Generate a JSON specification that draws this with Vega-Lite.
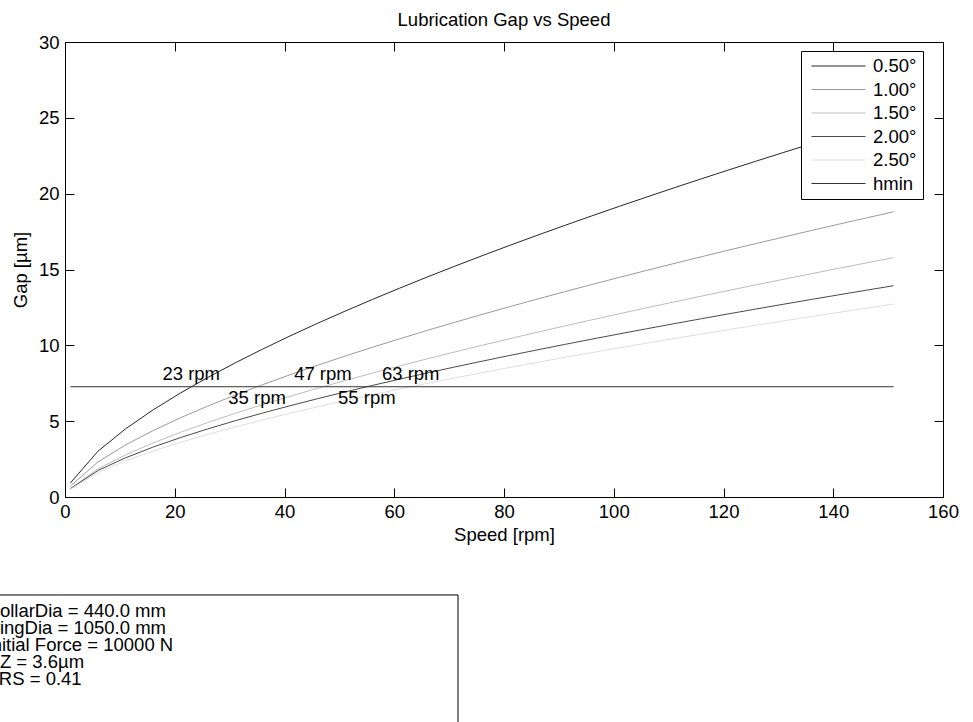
{
  "$schema": "https://vega.github.io/schema/vega-lite/v6.json",
  "width": 878,
  "height": 455,
  "autosize": {"type": "none"},
  "padding": {"left": 65, "top": 42, "right": 30, "bottom": 225},
  "background": "white",
  "config": {
    "font": "Liberation Sans",
    "view": {"stroke": "black", "strokeWidth": 1},
    "axis": {
      "domainColor": "black", "tickColor": "black", "labelColor": "black", "titleColor": "black",
      "labelFont": "Liberation Sans", "titleFont": "Liberation Sans",
      "labelFontSize": 18.5, "titleFontSize": 18.5, "titleFontWeight": "normal",
      "grid": false, "tickSize": -9, "domainWidth": 1, "tickWidth": 1,
      "labelFlush": false, "labelOverlap": false, "labelBound": false
    }
  },
  "title": {"text": "Lubrication Gap vs Speed", "fontSize": 18.5, "fontWeight": "normal", "color": "black", "font": "Liberation Sans", "anchor": "middle", "offset": 4},
  "datasets": {
    "curves": [
      {"series": "0.50°", "speed": 1, "gap": 0.932}, {"series": "0.50°", "speed": 6, "gap": 3.015}, {"series": "0.50°", "speed": 11, "gap": 4.485}, {"series": "0.50°", "speed": 16, "gap": 5.732}, {"series": "0.50°", "speed": 21, "gap": 6.849}, {"series": "0.50°", "speed": 26, "gap": 7.879}, {"series": "0.50°", "speed": 31, "gap": 8.840}, {"series": "0.50°", "speed": 36, "gap": 9.750}, {"series": "0.50°", "speed": 41, "gap": 10.617}, {"series": "0.50°", "speed": 46, "gap": 11.447}, {"series": "0.50°", "speed": 51, "gap": 12.248}, {"series": "0.50°", "speed": 56, "gap": 13.022}, {"series": "0.50°", "speed": 61, "gap": 13.772}, {"series": "0.50°", "speed": 66, "gap": 14.503}, {"series": "0.50°", "speed": 71, "gap": 15.213}, {"series": "0.50°", "speed": 76, "gap": 15.906}, {"series": "0.50°", "speed": 81, "gap": 16.585}, {"series": "0.50°", "speed": 86, "gap": 17.248}, {"series": "0.50°", "speed": 91, "gap": 17.897}, {"series": "0.50°", "speed": 96, "gap": 18.535}, {"series": "0.50°", "speed": 101, "gap": 19.163}, {"series": "0.50°", "speed": 106, "gap": 19.778}, {"series": "0.50°", "speed": 111, "gap": 20.385}, {"series": "0.50°", "speed": 116, "gap": 20.983}, {"series": "0.50°", "speed": 121, "gap": 21.570}, {"series": "0.50°", "speed": 126, "gap": 22.151}, {"series": "0.50°", "speed": 131, "gap": 22.724}, {"series": "0.50°", "speed": 136, "gap": 23.287}, {"series": "0.50°", "speed": 141, "gap": 23.846}, {"series": "0.50°", "speed": 146, "gap": 24.396}, {"series": "0.50°", "speed": 151, "gap": 24.939},
      {"series": "1.00°", "speed": 1, "gap": 0.721}, {"series": "1.00°", "speed": 6, "gap": 2.311}, {"series": "1.00°", "speed": 11, "gap": 3.426}, {"series": "1.00°", "speed": 16, "gap": 4.371}, {"series": "1.00°", "speed": 21, "gap": 5.216}, {"series": "1.00°", "speed": 26, "gap": 5.994}, {"series": "1.00°", "speed": 31, "gap": 6.719}, {"series": "1.00°", "speed": 36, "gap": 7.405}, {"series": "1.00°", "speed": 41, "gap": 8.058}, {"series": "1.00°", "speed": 46, "gap": 8.684}, {"series": "1.00°", "speed": 51, "gap": 9.287}, {"series": "1.00°", "speed": 56, "gap": 9.869}, {"series": "1.00°", "speed": 61, "gap": 10.433}, {"series": "1.00°", "speed": 66, "gap": 10.981}, {"series": "1.00°", "speed": 71, "gap": 11.515}, {"series": "1.00°", "speed": 76, "gap": 12.036}, {"series": "1.00°", "speed": 81, "gap": 12.545}, {"series": "1.00°", "speed": 86, "gap": 13.042}, {"series": "1.00°", "speed": 91, "gap": 13.531}, {"series": "1.00°", "speed": 96, "gap": 14.009}, {"series": "1.00°", "speed": 101, "gap": 14.478}, {"series": "1.00°", "speed": 106, "gap": 14.941}, {"series": "1.00°", "speed": 111, "gap": 15.396}, {"series": "1.00°", "speed": 116, "gap": 15.842}, {"series": "1.00°", "speed": 121, "gap": 16.284}, {"series": "1.00°", "speed": 126, "gap": 16.718}, {"series": "1.00°", "speed": 131, "gap": 17.146}, {"series": "1.00°", "speed": 136, "gap": 17.570}, {"series": "1.00°", "speed": 141, "gap": 17.986}, {"series": "1.00°", "speed": 146, "gap": 18.397}, {"series": "1.00°", "speed": 151, "gap": 18.804},
      {"series": "1.50°", "speed": 1, "gap": 0.564}, {"series": "1.50°", "speed": 6, "gap": 1.853}, {"series": "1.50°", "speed": 11, "gap": 2.772}, {"series": "1.50°", "speed": 16, "gap": 3.555}, {"series": "1.50°", "speed": 21, "gap": 4.258}, {"series": "1.50°", "speed": 26, "gap": 4.907}, {"series": "1.50°", "speed": 31, "gap": 5.515}, {"series": "1.50°", "speed": 36, "gap": 6.090}, {"series": "1.50°", "speed": 41, "gap": 6.640}, {"series": "1.50°", "speed": 46, "gap": 7.167}, {"series": "1.50°", "speed": 51, "gap": 7.675}, {"series": "1.50°", "speed": 56, "gap": 8.167}, {"series": "1.50°", "speed": 61, "gap": 8.644}, {"series": "1.50°", "speed": 66, "gap": 9.109}, {"series": "1.50°", "speed": 71, "gap": 9.561}, {"series": "1.50°", "speed": 76, "gap": 10.003}, {"series": "1.50°", "speed": 81, "gap": 10.435}, {"series": "1.50°", "speed": 86, "gap": 10.858}, {"series": "1.50°", "speed": 91, "gap": 11.273}, {"series": "1.50°", "speed": 96, "gap": 11.681}, {"series": "1.50°", "speed": 101, "gap": 12.082}, {"series": "1.50°", "speed": 106, "gap": 12.475}, {"series": "1.50°", "speed": 111, "gap": 12.863}, {"series": "1.50°", "speed": 116, "gap": 13.246}, {"series": "1.50°", "speed": 121, "gap": 13.622}, {"series": "1.50°", "speed": 126, "gap": 13.993}, {"series": "1.50°", "speed": 131, "gap": 14.359}, {"series": "1.50°", "speed": 136, "gap": 14.721}, {"series": "1.50°", "speed": 141, "gap": 15.078}, {"series": "1.50°", "speed": 146, "gap": 15.431}, {"series": "1.50°", "speed": 151, "gap": 15.781},
      {"series": "2.00°", "speed": 1, "gap": 0.550}, {"series": "2.00°", "speed": 6, "gap": 1.745}, {"series": "2.00°", "speed": 11, "gap": 2.579}, {"series": "2.00°", "speed": 16, "gap": 3.283}, {"series": "2.00°", "speed": 21, "gap": 3.911}, {"series": "2.00°", "speed": 26, "gap": 4.487}, {"series": "2.00°", "speed": 31, "gap": 5.026}, {"series": "2.00°", "speed": 36, "gap": 5.534}, {"series": "2.00°", "speed": 41, "gap": 6.017}, {"series": "2.00°", "speed": 46, "gap": 6.479}, {"series": "2.00°", "speed": 51, "gap": 6.925}, {"series": "2.00°", "speed": 56, "gap": 7.355}, {"series": "2.00°", "speed": 61, "gap": 7.771}, {"series": "2.00°", "speed": 66, "gap": 8.177}, {"series": "2.00°", "speed": 71, "gap": 8.570}, {"series": "2.00°", "speed": 76, "gap": 8.954}, {"series": "2.00°", "speed": 81, "gap": 9.329}, {"series": "2.00°", "speed": 86, "gap": 9.695}, {"series": "2.00°", "speed": 91, "gap": 10.055}, {"series": "2.00°", "speed": 96, "gap": 10.407}, {"series": "2.00°", "speed": 101, "gap": 10.753}, {"series": "2.00°", "speed": 106, "gap": 11.092}, {"series": "2.00°", "speed": 111, "gap": 11.427}, {"series": "2.00°", "speed": 116, "gap": 11.756}, {"series": "2.00°", "speed": 121, "gap": 12.080}, {"series": "2.00°", "speed": 126, "gap": 12.399}, {"series": "2.00°", "speed": 131, "gap": 12.714}, {"series": "2.00°", "speed": 136, "gap": 13.025}, {"series": "2.00°", "speed": 141, "gap": 13.331}, {"series": "2.00°", "speed": 146, "gap": 13.632}, {"series": "2.00°", "speed": 151, "gap": 13.932},
      {"series": "2.50°", "speed": 1, "gap": 0.513}, {"series": "2.50°", "speed": 6, "gap": 1.614}, {"series": "2.50°", "speed": 11, "gap": 2.379}, {"series": "2.50°", "speed": 16, "gap": 3.024}, {"series": "2.50°", "speed": 21, "gap": 3.599}, {"series": "2.50°", "speed": 26, "gap": 4.126}, {"series": "2.50°", "speed": 31, "gap": 4.618}, {"series": "2.50°", "speed": 36, "gap": 5.081}, {"series": "2.50°", "speed": 41, "gap": 5.523}, {"series": "2.50°", "speed": 46, "gap": 5.944}, {"series": "2.50°", "speed": 51, "gap": 6.351}, {"series": "2.50°", "speed": 56, "gap": 6.743}, {"series": "2.50°", "speed": 61, "gap": 7.122}, {"series": "2.50°", "speed": 66, "gap": 7.490}, {"series": "2.50°", "speed": 71, "gap": 7.848}, {"series": "2.50°", "speed": 76, "gap": 8.197}, {"series": "2.50°", "speed": 81, "gap": 8.539}, {"series": "2.50°", "speed": 86, "gap": 8.873}, {"series": "2.50°", "speed": 91, "gap": 9.200}, {"series": "2.50°", "speed": 96, "gap": 9.520}, {"series": "2.50°", "speed": 101, "gap": 9.834}, {"series": "2.50°", "speed": 106, "gap": 10.143}, {"series": "2.50°", "speed": 111, "gap": 10.446}, {"series": "2.50°", "speed": 116, "gap": 10.745}, {"series": "2.50°", "speed": 121, "gap": 11.039}, {"series": "2.50°", "speed": 126, "gap": 11.329}, {"series": "2.50°", "speed": 131, "gap": 11.614}, {"series": "2.50°", "speed": 136, "gap": 11.897}, {"series": "2.50°", "speed": 141, "gap": 12.175}, {"series": "2.50°", "speed": 146, "gap": 12.449}, {"series": "2.50°", "speed": 151, "gap": 12.721},
      {"series": "hmin", "speed": 1, "gap": 7.27}, {"series": "hmin", "speed": 151, "gap": 7.27}
    ],
    "above": [
      {"speed": 23, "gap": 7.27, "label": "23 rpm"},
      {"speed": 47, "gap": 7.27, "label": "47 rpm"},
      {"speed": 63, "gap": 7.27, "label": "63 rpm"}
    ],
    "below": [
      {"speed": 35, "gap": 7.27, "label": "35 rpm"},
      {"speed": 55, "gap": 7.27, "label": "55 rpm"}
    ],
    "info": [
      {"lines": ["CollarDia = 440.0 mm", "RingDia = 1050.0 mm", "Initial Force = 10000 N", "RZ = 3.6µm", "ERS = 0.41"]}
    ]
  },
  "layer": [
    {
      "data": {"name": "curves"},
      "mark": {"type": "line", "strokeWidth": 1},
      "encoding": {
        "x": {"field": "speed", "type": "quantitative", "scale": {"domain": [0, 160], "nice": false, "zero": false},
              "axis": {"orient": "bottom", "values": [0, 20, 40, 60, 80, 100, 120, 140, 160], "title": "Speed [rpm]", "labelPadding": 14, "titlePadding": 5}},
        "y": {"field": "gap", "type": "quantitative", "scale": {"domain": [0, 30], "nice": false, "zero": false},
              "axis": {"orient": "left", "values": [0, 5, 10, 15, 20, 25, 30], "title": "Gap [µm]", "labelPadding": 15, "titlePadding": 8}},
        "color": {"field": "series", "type": "nominal",
                  "scale": {"domain": ["0.50°", "1.00°", "1.50°", "2.00°", "2.50°", "hmin"], "range": ["#262626", "#9a9a9a", "#bdbdbd", "#4a4a4a", "#dedede", "#333333"]},
                  "legend": {"orient": "none", "legendX": 736, "legendY": 9, "title": null, "symbolType": "stroke", "symbolSize": 2916, "symbolStrokeWidth": 1,
                             "labelFontSize": 18.5, "labelFont": "Liberation Sans", "labelColor": "black", "strokeColor": "black", "fillColor": "white",
                             "padding": 6, "rowPadding": 4.5, "clipHeight": 18, "labelOffset": 7, "symbolOffset": 4}}
      }
    },
    {
      "data": {"name": "above"},
      "mark": {"type": "text", "dy": -7, "baseline": "alphabetic", "fontSize": 18.5, "font": "Liberation Sans", "color": "black"},
      "encoding": {
        "x": {"field": "speed", "type": "quantitative", "axis": {"orient": "top", "labels": false, "title": null, "values": [0, 20, 40, 60, 80, 100, 120, 140, 160]}},
        "y": {"field": "gap", "type": "quantitative", "axis": {"orient": "right", "labels": false, "title": null, "values": [0, 5, 10, 15, 20, 25, 30]}},
        "text": {"field": "label"}
      }
    },
    {
      "data": {"name": "below"},
      "mark": {"type": "text", "dy": 17, "baseline": "alphabetic", "fontSize": 18.5, "font": "Liberation Sans", "color": "black"},
      "encoding": {
        "x": {"field": "speed", "type": "quantitative", "axis": null},
        "y": {"field": "gap", "type": "quantitative", "axis": null},
        "text": {"field": "label"}
      }
    },
    {
      "data": {"values": [{}]},
      "mark": {"type": "rect", "fill": "white", "stroke": "black", "strokeWidth": 1},
      "encoding": {
        "x": {"datum": -16, "type": "quantitative", "axis": null},
        "x2": {"datum": 71.62},
        "y": {"datum": -6.46, "type": "quantitative", "axis": null},
        "y2": {"datum": -16}
      }
    },
    {
      "data": {"name": "info"},
      "mark": {"type": "text", "align": "left", "baseline": "alphabetic", "fontSize": 18.5, "font": "Liberation Sans", "color": "black", "lineHeight": 17.2},
      "encoding": {
        "x": {"datum": -14.3, "type": "quantitative", "axis": null},
        "y": {"datum": -7.89, "type": "quantitative", "axis": null},
        "text": {"field": "lines"}
      }
    }
  ],
  "resolve": {"axis": {"x": "independent", "y": "independent"}}
}
